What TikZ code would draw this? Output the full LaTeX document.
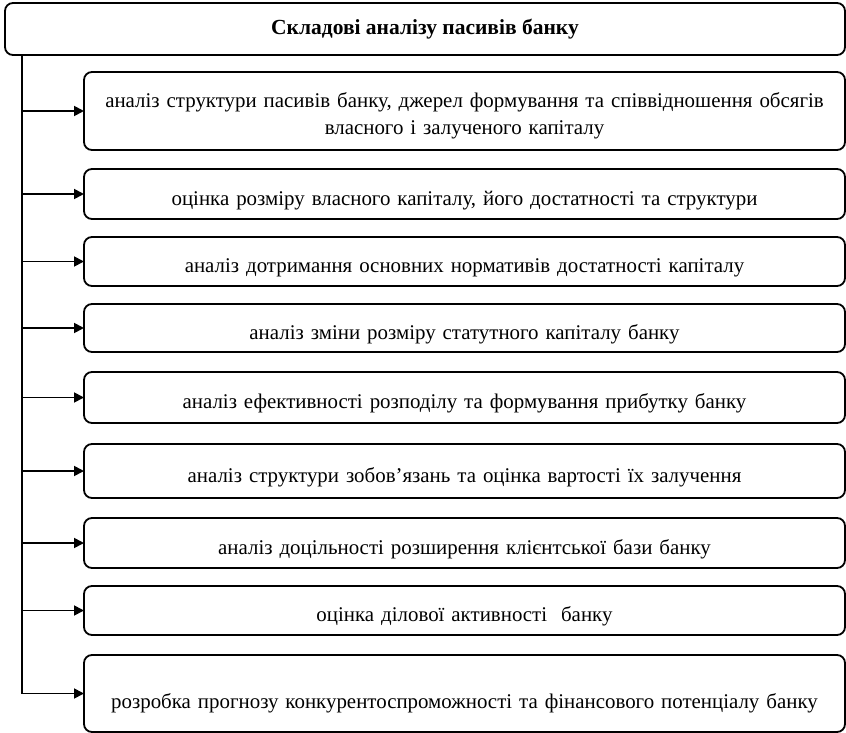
\documentclass[tikz,border=0pt]{standalone}
\usepackage{fontspec}
\setmainfont{Liberation Serif}
\usetikzlibrary{arrows.meta, positioning}

\begin{document}
\begin{tikzpicture}[
    x=1pt, y=1pt,
    title/.style={
        rectangle, draw=black, line width=1.8pt, rounded corners=8pt,
        outer sep=0pt, minimum width=840pt, minimum height=52pt,
        font=\fontsize{21.5}{27}\selectfont\bfseries
    },
    item/.style={
        rectangle, draw=black, line width=1.8pt, rounded corners=8pt,
        outer sep=0pt, minimum width=761pt, minimum height=49pt,
        text width=750pt, align=center,
        text height=#1, text depth=0pt,
        font=\fontsize{20.9}{27}\selectfont
    },
    item/.default=22pt,
    arr/.style={-{Triangle[length=10pt, width=10pt]}, line width=1.8pt},
]
\useasboundingbox (0,0) rectangle (846,-733);

% Title
\node[title] (title) at (425,-29) {Складові аналізу пасивів банку};
\coordinate (trunk) at ([xshift=17pt]title.south west);

% Components
\node[item=26pt, text depth=32pt, minimum height=78pt, below=17pt of title.south east, anchor=north east] (b1) {аналіз структури пасивів банку, джерел формування та співвідношення обсягів\\власного і залученого капіталу};
\node[item, minimum height=50pt, below=19pt of b1] (b2) {оцінка розміру власного капіталу, його достатності та структури};
\node[item, minimum height=49pt, below=18pt of b2] (b3) {аналіз дотримання основних нормативів достатності капіталу};
\node[item, minimum height=48pt, below=18pt of b3] (b4) {аналіз зміни розміру статутного капіталу банку};
\node[item, minimum height=51pt, below=20pt of b4] (b5) {аналіз ефективності розподілу та формування прибутку банку};
\node[item, minimum height=54pt, below=21pt of b5] (b6) {аналіз структури зобов’язань та оцінка вартості їх залучення};
\node[item, minimum height=50pt, below=20pt of b6] (b7) {аналіз доцільності розширення клієнтської бази банку};
\node[item, minimum height=49pt, below=18pt of b7] (b8) {оцінка ділової активності~~банку};
\node[item=30pt, minimum height=77pt, below=20pt of b8] (b9) {розробка прогнозу конкурентоспроможності та фінансового потенціалу банку};

% Arrows
\draw[line width=1.8pt] (trunk) -- (b9.west -| trunk);
\foreach \b in {b1,b2,b3,b4,b5,b6,b7,b8,b9}
    \draw[arr] (\b.west -| trunk) -- (\b.west);

\end{tikzpicture}
\end{document}
